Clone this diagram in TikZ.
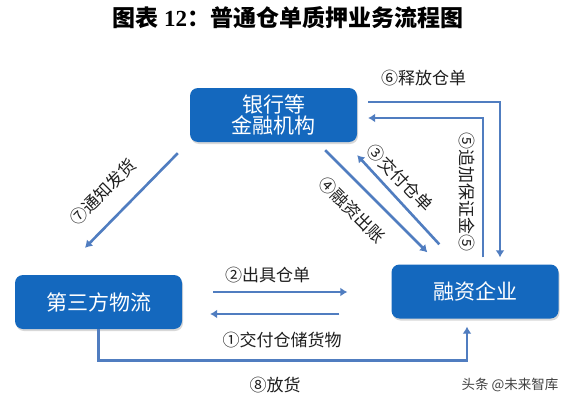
\documentclass[tikz,border=0pt]{standalone}
\usepackage{fontspec}
\newfontfamily\cjk{Noto Sans CJK SC}
\newfontfamily\latinserif{Liberation Serif}
\usetikzlibrary{arrows.meta,shadows}

\definecolor{boxblue}{RGB}{20,104,190}
\definecolor{flowblue}{RGB}{80,125,192}
\definecolor{lbltext}{RGB}{30,30,30}

\begin{document}
\begin{tikzpicture}[x=1pt,y=1pt,
  box/.style={draw=none,fill=boxblue,rounded corners=8pt,minimum width=167pt,minimum height=54pt,
    text=white,font=\cjk\fontsize{21}{24}\selectfont,align=center,
    drop shadow={shadow xshift=1pt,shadow yshift=-2pt,opacity=0.25,fill=black!60}},
  flow/.style={draw=flowblue,line width=2.6pt,-{Latex[length=7pt,width=9pt]}},
  lbl/.style={text=lbltext,font=\cjk\fontsize{17}{20}\selectfont,inner sep=0pt}]

\useasboundingbox[fill=white] (0,0) rectangle (573,400);

% Titre
\node[font=\cjk\bfseries\fontsize{23}{26}\selectfont,inner sep=0pt] (title) at (288,382)
  {图表 {\latinserif\bfseries 12}：普通仓单质押业务流程图};

% Boites
\node[box] (bank) at (273.5,285) {银行等\\[-3pt]金融机构};
\node[box] (logi) at (98.5,98) {第三方物流};
\node[box] (firm) at (475,108.5) {融资企业};

% Fleches banque / entreprise
\draw[flow] ([xshift=11pt,yshift=13pt]bank.east) -| ([xshift=25pt,yshift=7pt]firm.north);
\draw[flow] ([xshift=8pt,yshift=7pt]firm.north) |- ([xshift=11pt,yshift=-3pt]bank.east);
\draw[flow] ([xshift=-32pt,yshift=-8pt]bank.south east) -- ([xshift=36pt,yshift=12pt]firm.north west);
\draw[flow] ([xshift=48pt,yshift=20pt]firm.north west) -- ([yshift=-13pt]bank.south east);

% Fleche banque / logistique
\draw[flow] ([xshift=-12pt,yshift=-11pt]bank.south west) -- ([xshift=-13.5pt,yshift=27pt]logi.north);

% Fleches logistique / entreprise
\draw[flow] ([xshift=31pt,yshift=10pt]logi.east) -- ([xshift=-44pt,yshift=-0.5pt]firm.west);
\draw[flow] ([xshift=-52pt,yshift=-22.5pt]firm.west) -- ([xshift=28pt,yshift=-12pt]logi.east);
\draw[flow] (logi.south) -- ++(0,-31) -| ([xshift=-8pt,yshift=-8pt]firm.south);

% Legendes
\node[lbl] (l6) at (423.5,322) {⑥释放仓单};
\node[lbl,rotate=-90] (l5) at (467,208) {⑤追加保证金⑤};
\node[lbl,rotate=-45] (l4) at (352,190) {④融资出账};
\node[lbl,rotate=-46] (l3) at (400,222) {③交付仓单};
\node[lbl,rotate=45] (l7) at (103,208) {⑦通知发货};
\node[lbl] (l2) at (267.5,125) {②出具仓单};
\node[lbl] (l1) at (282,60) {①交付仓储货物};
\node[lbl] (l8) at (275,15) {⑧放货};

% Filigrane
\node[text=black!75,font=\cjk\fontsize{13.5}{16}\selectfont,inner sep=0pt] (mark) at (510,15) {头条 @未来智库};

\end{tikzpicture}
\end{document}
